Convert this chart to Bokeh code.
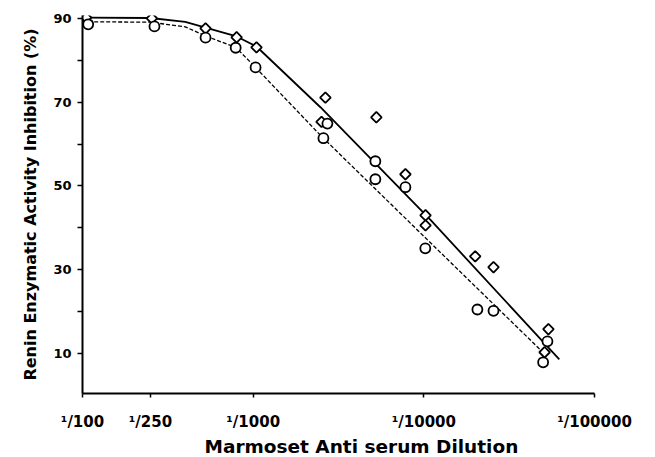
import numpy as np
from bokeh.plotting import figure
from bokeh.models import FixedTicker, Title
from bokeh.embed import file_html
from bokeh.resources import INLINE

# Diamond series (solid fit)
dil_a = [105, 255, 526, 800, 1046, 2650, 2515, 5270, 7800, 10230, 10230, 20000, 25600, 53700, 51000]
inh_a = [90.2, 90.0, 87.6, 85.5, 83.1, 71.1, 65.3, 66.4, 52.8, 43.0, 40.6, 33.2, 30.6, 15.8, 10.3]
# Circle series (dashed fit)
dil_b = [108, 264, 526, 790, 1033, 2580, 2723, 5200, 5200, 7800, 10200, 20600, 25600, 53000, 50000]
inh_b = [88.6, 88.1, 85.4, 83.0, 78.3, 61.4, 64.9, 55.9, 51.6, 49.7, 35.1, 20.5, 20.2, 12.9, 7.9]
# Hand-drawn fit curves
fit_a_x = [105, 250, 400, 526, 800, 1046, 2478, 10940, 62200]
fit_a_y = [90.2, 90.1, 89.2, 87.8, 85.7, 83.3, 68.8, 41.9, 8.6]
fit_b_x = [108, 250, 400, 526, 790, 1033, 2478, 9160, 52500]
fit_b_y = [89.2, 89.1, 88.0, 85.8, 83.1, 78.3, 62.1, 39.5, 9.4]

x_ticks = [100, 250, 1000, 10000, 100000]
x_tick_labels = ["\u00b9/100", "\u00b9/250", "\u00b9/1000", "\u00b9/10000", "\u00b9/100000"]
y_ticks = [10, 20, 30, 40, 50, 60, 70, 80, 90]
y_tick_labels = ["10", "", "30", "", "50", "", "70", "", "90"]

FONT = "DejaVu Sans"

p = figure(width=647, height=457, x_axis_type="log",
           x_range=(100, 100000), y_range=(0.45, 90.7),
           output_backend="svg", toolbar_location=None,
           min_border_left=82, min_border_right=53,
           min_border_top=15, min_border_bottom=64)
p.outline_line_color = None
p.grid.visible = False
p.background_fill_color = "white"

p.line(fit_a_x, fit_a_y, line_color="black", line_width=1.8)
p.line(fit_b_x, fit_b_y, line_color="black", line_width=1.3, line_dash="4 2")

p.scatter(dil_a, inh_a, marker="square", angle=np.pi / 4, size=7.5,
          line_color="black", fill_color="white", line_width=1.8)
p.scatter(dil_b, inh_b, marker="circle", size=10,
          line_color="black", fill_color="white", line_width=1.8)

xa = p.xaxis[0]
xa.ticker = FixedTicker(ticks=x_ticks, minor_ticks=[])
xa.major_label_overrides = {t: l for t, l in zip(x_ticks, x_tick_labels)}
xa.major_label_text_font = FONT
xa.major_label_text_font_style = "bold"
xa.major_label_text_font_size = "15px"
xa.major_label_text_color = "black"
xa.major_label_standoff = 15
xa.major_tick_out = 4
xa.major_tick_in = 0
xa.minor_tick_out = 0
xa.minor_tick_in = 0
xa.axis_line_width = 2
xa.axis_line_color = "black"
xa.major_tick_line_width = 1.5
xa.major_tick_line_color = "black"
xa.axis_label = None

ya = p.yaxis[0]
ya.ticker = FixedTicker(ticks=y_ticks, minor_ticks=[])
ya.major_label_overrides = {t: l for t, l in zip(y_ticks, y_tick_labels)}
ya.major_label_text_font = FONT
ya.major_label_text_font_style = "bold"
ya.major_label_text_font_size = "13px"
ya.major_label_text_color = "black"
ya.major_label_standoff = 6
ya.major_tick_out = 5
ya.major_tick_in = 0
ya.minor_tick_out = 0
ya.minor_tick_in = 0
ya.axis_line_width = 2
ya.axis_line_color = "black"
ya.major_tick_line_width = 1.5
ya.major_tick_line_color = "black"
ya.axis_label = "Renin Enzymatic Activity Inhibition (%)"
ya.axis_label_text_font = FONT
ya.axis_label_text_font_style = "bold"
ya.axis_label_text_font_size = "16px"
ya.axis_label_text_color = "black"
ya.axis_label_standoff = 10

p.add_layout(Title(text="Marmoset Anti serum Dilution", align="left", offset=122,
                   text_font=FONT, text_font_style="bold", text_font_size="18.5px",
                   text_color="black", standoff=0), "below")

open("out.html", "w").write(file_html(p, INLINE))
